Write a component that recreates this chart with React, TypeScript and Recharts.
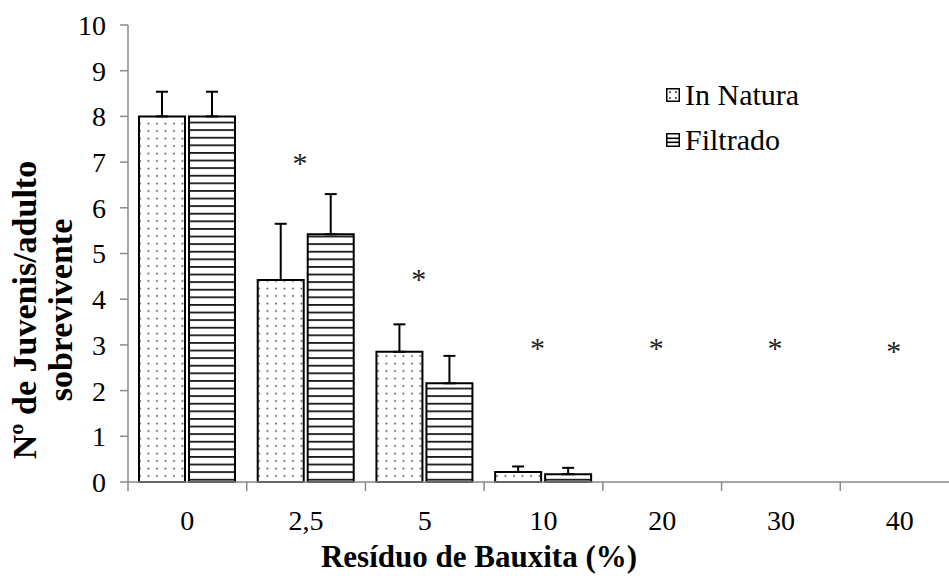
import React from "react";
import {
  Bar,
  ComposedChart,
  ErrorBar,
  Legend,
  Line,
  XAxis,
  YAxis,
} from "recharts";

// Survival chart: juveniles per surviving adult vs bauxite residue dose.
const CATEGORIES = ["0", "2,5", "5", "10", "20", "30", "40"];
const IN_NATURA = [8, 4.42, 2.85, 0.22, 0, 0, 0];
const FILTRADO = [8, 5.42, 2.16, 0.17, 0, 0, 0];
const IN_NATURA_ERR = [0.54, 1.23, 0.6, 0.12, 0, 0, 0];
const FILTRADO_ERR = [0.54, 0.88, 0.6, 0.14, 0, 0, 0];
// position of the significance asterisk above each group (null = none)
const SIG = [null, 7.1, 4.55, 3.05, 3.05, 3.05, 2.97];
const Y_TICKS = [0, 1, 2, 3, 4, 5, 6, 7, 8, 9, 10];

const data = CATEGORIES.map((cat, i) => ({
  cat,
  inNatura: IN_NATURA[i],
  filtrado: FILTRADO[i],
  inNaturaErr: IN_NATURA_ERR[i],
  filtradoErr: FILTRADO_ERR[i],
  sig: SIG[i],
}));

const FONT = "Liberation Serif, Times New Roman, Times, serif";
const AXIS = "#898989";
const W = 970;
const H = 576;
const MARGIN = { top: 25, right: 11, bottom: 0, left: 0 };
const Y_WIDTH = 128;
const X_HEIGHT = 94;
const BAND = (W - MARGIN.right - MARGIN.left - Y_WIDTH) / CATEGORIES.length;

// category labels centered, tick marks on the band boundaries
function XTick(props: any) {
  const { x, y, payload, index } = props;
  return (
    <g>
      {index === 0 && (
        <line x1={x - BAND / 2} y1={y} x2={x - BAND / 2} y2={y + 9} stroke={AXIS} strokeWidth={1.5} />
      )}
      <line x1={x + BAND / 2} y1={y} x2={x + BAND / 2} y2={y + 9} stroke={AXIS} strokeWidth={1.5} />
      <text x={x} y={y + 48} textAnchor="middle" style={{ fontFamily: FONT, fontSize: 28 }} fill="#000">
        {payload.value}
      </text>
    </g>
  );
}

function Asterisk(props: any) {
  const { cx, cy, index } = props;
  if (cy == null || Number.isNaN(cy)) return <g key={`s${index}`} />;
  return (
    <text key={`s${index}`} x={cx - 6} y={cy + 15} textAnchor="middle" style={{ fontFamily: FONT, fontSize: 30 }} fill="#222">
      *
    </text>
  );
}

function LegendBox() {
  const row = { display: "flex", alignItems: "center", height: 45 } as const;
  return (
    <div style={{ fontFamily: FONT, fontSize: 30, color: "#000", lineHeight: 1 }}>
      <div style={row}>
        <svg width={14} height={14} style={{ marginRight: 5 }}>
          <rect x={0.75} y={0.75} width={12.5} height={12.5} fill="#fff" stroke="#000" strokeWidth={1.5} />
          <circle cx={4} cy={4} r={1} fill="#333" />
          <circle cx={10} cy={4} r={1} fill="#333" />
          <circle cx={4} cy={10} r={1} fill="#333" />
          <circle cx={10} cy={10} r={1} fill="#333" />
        </svg>
        In Natura
      </div>
      <div style={row}>
        <svg width={14} height={14} style={{ marginRight: 5 }}>
          <rect x={0.75} y={0.75} width={12.5} height={12.5} fill="#fff" stroke="#000" strokeWidth={1.5} />
          <rect x={1} y={4.5} width={12} height={1.6} fill="#000" />
          <rect x={1} y={8.5} width={12} height={1.6} fill="#000" />
        </svg>
        Filtrado
      </div>
    </div>
  );
}

export default function App() {
  return (
    <div style={{ position: "absolute", left: 0, top: 0, width: 949, height: 576, overflow: "hidden", background: "#fff" }}>
      <ComposedChart width={W} height={H} data={data} margin={MARGIN} barSize={46} barGap={4}>
        <defs>
          <pattern id="dots" width={8.5} height={7.5} patternUnits="userSpaceOnUse">
            <circle cx={4} cy={3.5} r={0.95} fill="#444" />
          </pattern>
          <pattern id="hlines" width={10} height={7.6} patternUnits="userSpaceOnUse">
            <rect x={0} y={0} width={10} height={1.8} fill="#1a1a1a" />
          </pattern>
        </defs>
        <XAxis
          dataKey="cat"
          height={X_HEIGHT}
          axisLine={{ stroke: AXIS, strokeWidth: 1.5 }}
          tickLine={false}
          tickSize={0}
          tickMargin={0}
          tick={<XTick />}
          interval={0}
          label={{
            content: () => (
              <text x={479} y={567} textAnchor="middle" style={{ fontFamily: FONT, fontSize: 31, fontWeight: "bold" }} fill="#000">
                Resíduo de Bauxita (%)
              </text>
            ),
          }}
        />
        <YAxis
          width={Y_WIDTH}
          domain={[0, 10]}
          ticks={Y_TICKS}
          interval={0}
          axisLine={{ stroke: AXIS, strokeWidth: 1.5 }}
          tickLine={{ stroke: AXIS, strokeWidth: 1.5 }}
          tickSize={8}
          tickMargin={14}
          tick={{ fontFamily: FONT, fontSize: 28, fill: "#000", style: { fontFamily: FONT } }}
          label={{
            content: () => (
              <g style={{ fontFamily: FONT, fontSize: 34, fontWeight: "bold" }} fill="#000" textAnchor="middle">
                <text transform="translate(36,310) rotate(-90)">Nº de Juvenis/adulto</text>
                <text transform="translate(72,310) rotate(-90)">sobrevivente</text>
              </g>
            ),
          }}
        />
        <Legend
          layout="vertical"
          align="center"
          verticalAlign="middle"
          content={() => <LegendBox />}
          wrapperStyle={{ left: 666, top: 72, width: "auto" }}
        />
        <Bar dataKey="inNatura" name="In Natura" fill="url(#dots)" stroke="#000" strokeWidth={2} isAnimationActive={false}>
          <ErrorBar
            dataKey={(d: any) => (d.inNaturaErr ? [0, d.inNaturaErr] : null)}
            width={6}
            stroke="#000"
            strokeWidth={2}
            direction="y"
          />
        </Bar>
        <Bar dataKey="filtrado" name="Filtrado" fill="url(#hlines)" stroke="#000" strokeWidth={2} isAnimationActive={false}>
          <ErrorBar
            dataKey={(d: any) => (d.filtradoErr ? [0, d.filtradoErr] : null)}
            width={6}
            stroke="#000"
            strokeWidth={2}
            direction="y"
          />
        </Bar>
        <Line
          dataKey="sig"
          stroke="none"
          dot={<Asterisk />}
          activeDot={false}
          legendType="none"
          isAnimationActive={false}
        />
      </ComposedChart>
    </div>
  );
}
